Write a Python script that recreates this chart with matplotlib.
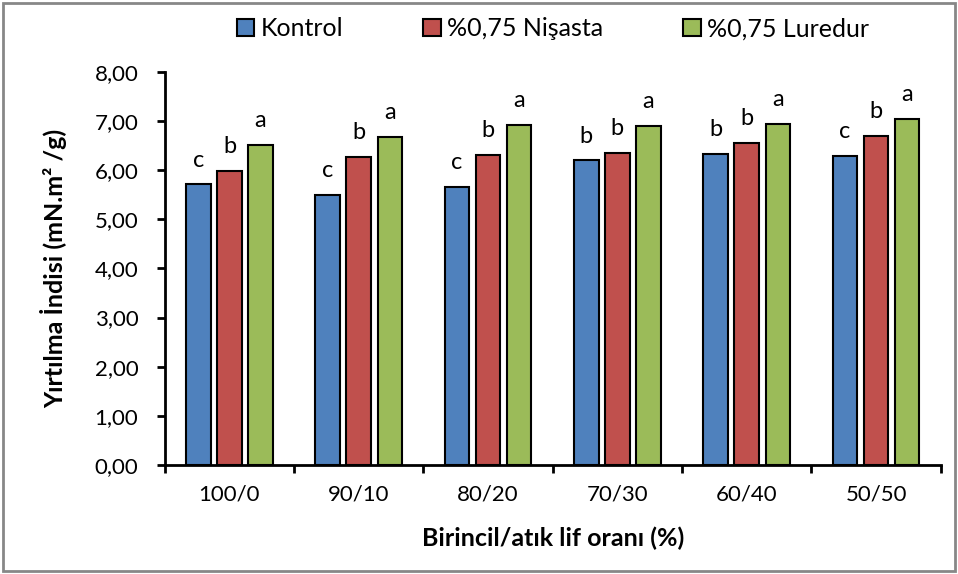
import matplotlib
matplotlib.use("Agg")
import matplotlib.pyplot as plt
import numpy as np
from matplotlib.patches import Rectangle

plt.rcParams['font.family'] = ['Lato', 'DejaVu Sans']

oranlar = ['100/0', '90/10', '80/20', '70/30', '60/40', '50/50']
seriler = ['Kontrol', '%0,75 Nişasta', '%0,75 Luredur']
kontrol = [5.71, 5.49, 5.66, 6.20, 6.33, 6.29]
nisasta = [5.99, 6.27, 6.31, 6.36, 6.56, 6.70]
luredur = [6.52, 6.68, 6.93, 6.91, 6.95, 7.04]
harf_kontrol = ['c', 'c', 'c', 'b', 'b', 'c']
harf_nisasta = ['b', 'b', 'b', 'b', 'b', 'b']
harf_luredur = ['a', 'a', 'a', 'a', 'a', 'a']
renkler = ['#4F81BD', '#C0504D', '#9BBB59']

fig = plt.figure(figsize=(9.58, 5.74), dpi=100)
ax = fig.add_axes([0.172, 0.190, 0.810, 0.6846])

x = np.arange(len(oranlar))
w = 0.19
step = 0.24
veriler = [kontrol, nisasta, luredur]
harfler = [harf_kontrol, harf_nisasta, harf_luredur]
for i, (vals, renk, ad, hrf) in enumerate(zip(veriler, renkler, seriler, harfler)):
    pos = x + (i - 1) * step
    bars = ax.bar(pos, vals, w, color=renk, edgecolor='black', linewidth=1.5, label=ad)
    # harf gruplari (istatistiksel fark) cubuklarin ustune
    for b, v, h in zip(bars, vals, hrf):
        ax.annotate(h, (b.get_x() + b.get_width() / 2, v), xytext=(0, 10),
                    textcoords='offset points', ha='center', va='bottom', fontsize=17)

ax.set_xlim(-0.5, len(oranlar) - 0.5)
ax.set_ylim(0, 8)
ax.set_yticks(np.arange(0, 8.01, 1))
ax.set_yticklabels([f'{v:.2f}'.replace('.', ',') for v in np.arange(0, 8.01, 1)], fontsize=16)
ax.set_xticks(x)
ax.set_xticklabels(oranlar, fontsize=16)
ax.set_xticks(np.arange(-0.5, len(oranlar)), minor=True)
ax.tick_params(axis='x', which='major', length=0, pad=14)
ax.tick_params(axis='x', which='minor', length=6, width=2, direction='out')
ax.tick_params(axis='y', length=6, width=2, direction='out', pad=13)

for s in ['top', 'right']:
    ax.spines[s].set_visible(False)
for s in ['left', 'bottom']:
    ax.spines[s].set_linewidth(2)

ax.set_xlabel('Birincil/atık lif oranı (%)', fontsize=18, fontweight='bold', labelpad=16)
ax.set_ylabel('Yırtılma İndisi (mN.m² /g)', fontsize=18, fontweight='bold', labelpad=20)

ax.legend(loc='center', bbox_to_anchor=(0.50, 1.11), ncol=3, frameon=False,
          fontsize=18, handlelength=0.7, handleheight=0.7, handletextpad=0.25,
          columnspacing=3.2)

# gri dis cerceve
fig.patches.append(Rectangle((0.003, 0.005), 0.994, 0.99, transform=fig.transFigure,
                             fill=False, edgecolor='#878787', linewidth=2))

fig.savefig('out.png', dpi=100)
